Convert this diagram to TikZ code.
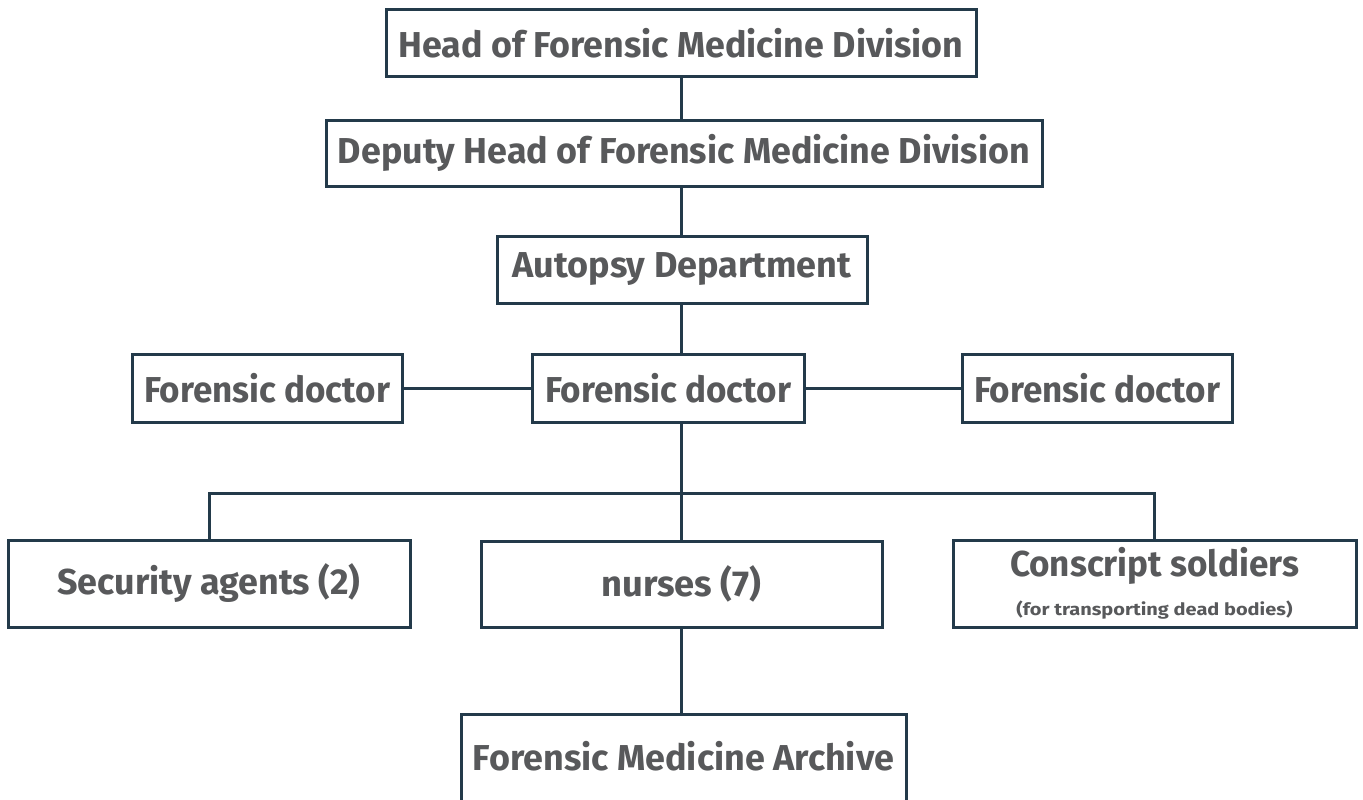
\documentclass[tikz,border=0pt]{standalone}
\usepackage{fontspec}
\setmainfont{Fira Sans}
\usepackage{graphicx}
\definecolor{linec}{HTML}{233A4A}
\definecolor{textc}{HTML}{58595B}
\newcommand{\fitw}[2]{\resizebox{#1pt}{\height}{#2}}
\begin{document}
\begin{tikzpicture}[x=1pt,y=-1pt,
  box/.style={draw=linec,line width=3pt,fill=white,text=textc,font=\fontsize{36}{40}\selectfont\bfseries,
    inner sep=0pt,anchor=center,align=center},
  conn/.style={draw=linec,line width=3pt,line join=miter}]
\useasboundingbox (0,0) rectangle (1363,800);
\clip (0,0) rectangle (1363,800);
\fill[white] (0,0) rectangle (1363,800);
\node[box,minimum width=590pt,minimum height=67pt] (head) at (681,43.5) {\fitw{565}{Head of Forensic Medicine Division}};
\node[box,minimum width=716pt,minimum height=66pt] (dep) at (684,153) {\fitw{692}{Deputy Head of Forensic Medicine Division}};
\node[box,minimum width=370pt,minimum height=67pt] (aut) at (682,269.5) {\fitw{339}{Autopsy Department}};
\node[box,minimum width=270pt,minimum height=68pt] (fdl) at (267,388) {\fitw{246}{Forensic doctor}};
\node[box,minimum width=272pt,minimum height=68pt] (fdm) at (668,388) {\fitw{246}{Forensic doctor}};
\node[box,minimum width=270pt,minimum height=68pt] (fdr) at (1097,388) {\fitw{246}{Forensic doctor}};
\node[box,minimum width=402pt,minimum height=87pt] (sec) at (209,583.5) {\raisebox{2pt}{\fitw{303}{Security agents (2)}}};
\node[box,minimum width=401pt,minimum height=86pt] (nur) at (681.5,584) {\fitw{160}{nurses (7)}};
\node[box,minimum width=403pt,minimum height=87pt] (con) at (1154.5,583.5) {\raisebox{3pt}{\fitw{289}{Conscript soldiers}}\\[-4pt]{\fontsize{17}{20}\selectfont\bfseries\fitw{276}{(for transporting dead bodies)}}};
\node[box,minimum width=445pt,minimum height=92pt] (arc) at (683.5,760) {\raisebox{9pt}{\fitw{421}{Forensic Medicine Archive}}};
\coordinate (bus) at (681,493);
\draw[conn] (head.south -| 681,0) -- (dep.north -| 681,0);
\draw[conn] (dep.south -| 681,0) -- (aut.north -| 681,0);
\draw[conn] (aut.south -| 681,0) -- (fdm.north -| 681,0);
\draw[conn] (fdl.east) -- (fdm.west);
\draw[conn] (fdm.east) -- (fdr.west);
\draw[conn] (fdm.south -| 681,0) -- (bus);
\draw[conn] (sec.north) -- (sec.north |- bus) -- (con.north |- bus) -- (con.north);
\draw[conn] (bus) -- (nur.north -| bus);
\draw[conn] (nur.south -| bus) -- (arc.north -| bus);
\end{tikzpicture}
\end{document}
